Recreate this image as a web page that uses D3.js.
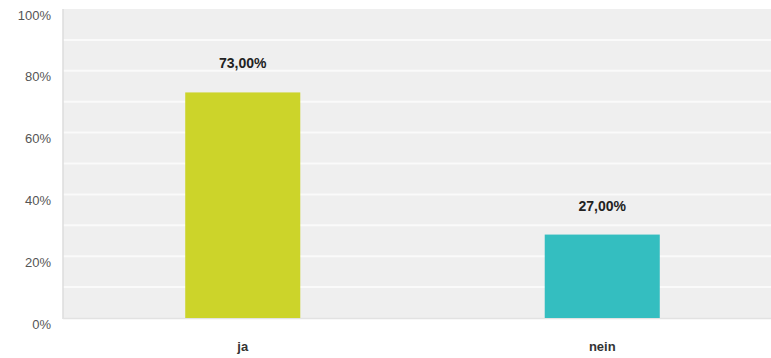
<!DOCTYPE html>
<html>
<head>
<meta charset="utf-8">
<script src="https://cdn.jsdelivr.net/npm/d3@7"></script>
<style>
  body { margin: 0; background: #fff; }
  svg { display: block; font-family: Arial, "Liberation Sans", sans-serif; }
</style>
</head>
<body>
<svg id="chart" width="771" height="358"></svg>
<script>
var categories = ['ja', 'nein'];
var values = [73, 27];
var valueLabels = ['73,00%', '27,00%'];
var barColors = ['#ccd42a', '#34bec0'];
var tickValues = [0, 20, 40, 60, 80, 100];
var minorTicks = [10, 30, 50, 70, 90];

window.onload = function() {
    var svg = d3.select('#chart');
    var left = 63, top = 9, bottom = 318;

    var y = d3.scaleLinear([0, 100], [bottom, top]);
    // plot runs off the right edge in the original, so the band range goes past 771
    var x = d3.scaleBand(categories, [left, 782]).paddingInner(0.68).paddingOuter(0.34);

    // background
    svg.append('rect')
        .attr('x', left).attr('y', top)
        .attr('width', 771 - left).attr('height', bottom - top)
        .attr('fill', '#efefef');

    // grid lines
    svg.selectAll('.grid')
        .data(tickValues.concat(minorTicks).filter(function(d) { return d > 0 && d < 100; }))
        .join('line')
        .attr('x1', left).attr('x2', 771)
        .attr('y1', function(d) { return y(d); })
        .attr('y2', function(d) { return y(d); })
        .attr('stroke', '#fafafa')
        .attr('stroke-width', 2);

    // left and bottom border
    svg.append('line')
        .attr('x1', left).attr('x2', left).attr('y1', top).attr('y2', bottom + 1)
        .attr('stroke', '#dcdcdc').attr('stroke-width', 1.5);
    svg.append('line')
        .attr('x1', left).attr('x2', 771).attr('y1', bottom + 0.5).attr('y2', bottom + 0.5)
        .attr('stroke', '#e2e2e2').attr('stroke-width', 1.5);

    // y axis
    var yAxis = d3.axisLeft(y).tickValues(tickValues)
        .tickFormat(function(d) { return d + '%'; }).tickSize(0).tickPadding(12);
    var ya = svg.append('g').attr('transform', 'translate(' + left + ',6)').call(yAxis);
    ya.select('.domain').remove();
    ya.selectAll('text').attr('fill', '#555').style('font-size', '13px');

    // x axis
    var xAxis = d3.axisBottom(x).tickSize(0).tickPadding(24);
    var xa = svg.append('g').attr('transform', 'translate(0,' + bottom + ')').call(xAxis);
    xa.select('.domain').remove();
    xa.selectAll('text').attr('fill', '#333').style('font-size', '13px').style('font-weight', 'bold');

    // bars
    svg.selectAll('.bar')
        .data(values)
        .join('rect')
        .attr('x', function(d, i) { return x(categories[i]); })
        .attr('y', function(d) { return y(d); })
        .attr('width', x.bandwidth())
        .attr('height', function(d) { return bottom - y(d); })
        .attr('fill', function(d, i) { return barColors[i]; });

    // value labels
    svg.selectAll('.lbl')
        .data(values)
        .join('text')
        .attr('x', function(d, i) { return x(categories[i]) + x.bandwidth() / 2; })
        .attr('y', function(d) { return y(d) - 24; })
        .attr('text-anchor', 'middle')
        .attr('fill', '#222')
        .style('font-size', '14px')
        .style('font-weight', 'bold')
        .text(function(d, i) { return valueLabels[i]; });
};
</script>
</body>
</html>
